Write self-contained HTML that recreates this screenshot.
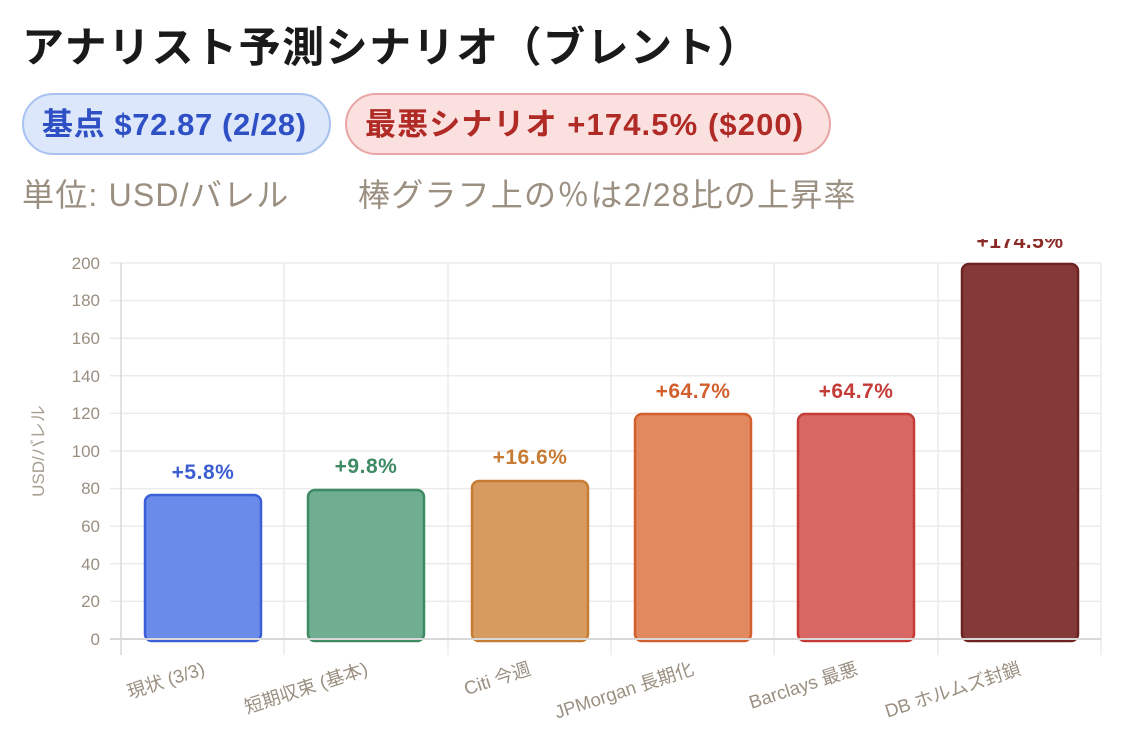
<!DOCTYPE html>
<html><head><meta charset="utf-8"><style>
body{margin:0;width:1126px;height:742px;background:#fff;overflow:hidden;font-family:"Liberation Sans","Noto Sans CJK JP",sans-serif;position:relative}
h1{position:absolute;left:22px;top:14px;margin:0;font-size:42px;font-weight:bold;color:#1a1a1a;letter-spacing:1.5px;white-space:nowrap}
.pill{position:absolute;top:93px;height:62px;border-radius:32px;box-sizing:border-box;font-size:31px;font-weight:bold;line-height:60px;padding:0 0 0 18px;white-space:nowrap;letter-spacing:0.6px}
.b{left:22px;width:309px;background:#dce7fb;border:2px solid #a9c3f0;color:#2f4fc4}
.r{left:345px;width:486px;background:#fbe0e0;border:2px solid #eaa5a5;color:#b02a26;letter-spacing:1.1px}
.sub{position:absolute;top:170px;font-size:32px;color:#9a8f80;white-space:nowrap;letter-spacing:1.2px}
svg{position:absolute;left:0;top:239px}
</style></head><body>
<h1>アナリスト予測シナリオ（ブレント）</h1>
<div class="pill b">基点 $72.87 (2/28)</div>
<div class="pill r">最悪シナリオ +174.5% ($200)</div>
<div class="sub" style="left:22px">単位: USD/バレル</div>
<div class="sub" style="left:358px">棒グラフ上の％は2/28比の上昇率</div>
<svg width="1126" height="503" viewBox="0 239 1126 503" font-family="Liberation Sans, Noto Sans CJK JP, sans-serif">
<g stroke="#ebebeb" stroke-width="1.5">
<line x1="110" x2="1101" y1="263" y2="263"/><line x1="110" x2="1101" y1="300.6" y2="300.6"/><line x1="110" x2="1101" y1="338.2" y2="338.2"/><line x1="110" x2="1101" y1="375.8" y2="375.8"/><line x1="110" x2="1101" y1="413.4" y2="413.4"/><line x1="110" x2="1101" y1="451" y2="451"/><line x1="110" x2="1101" y1="488.6" y2="488.6"/><line x1="110" x2="1101" y1="526.2" y2="526.2"/><line x1="110" x2="1101" y1="563.8" y2="563.8"/><line x1="110" x2="1101" y1="601.4" y2="601.4"/>
<line x1="284" x2="284" y1="263" y2="655"/><line x1="448" x2="448" y1="263" y2="655"/><line x1="611" x2="611" y1="263" y2="655"/><line x1="774" x2="774" y1="263" y2="655"/><line x1="938" x2="938" y1="263" y2="655"/><line x1="1101" x2="1101" y1="263" y2="655"/>
</g>
<line x1="121" x2="121" y1="263" y2="655" stroke="#d8d8d8" stroke-width="1.5"/>
<g fill="#9a8f80" font-size="17" text-anchor="end">
<text x="100" y="269">200</text><text x="100" y="306">180</text><text x="100" y="344">160</text><text x="100" y="382">140</text><text x="100" y="419">120</text><text x="100" y="457">100</text><text x="100" y="494">80</text><text x="100" y="532">60</text><text x="100" y="570">40</text><text x="100" y="607">20</text><text x="100" y="645">0</text>
</g>
<text transform="translate(44,451) rotate(-90)" fill="#a89f93" font-size="17" text-anchor="middle">USD/バレル</text>
<g stroke-width="2.5">
<rect x="145" y="495" width="116" height="146" rx="7" fill="#6a8bea" stroke="#3a5fd6"/>
<rect x="308" y="490" width="116" height="151" rx="7" fill="#6fae91" stroke="#3d8a63"/>
<rect x="472" y="481" width="116" height="160" rx="7" fill="#d89b5f" stroke="#c77c35"/>
<rect x="635" y="414" width="116" height="227" rx="7" fill="#e2895f" stroke="#d2602e"/>
<rect x="798" y="414" width="116" height="227" rx="7" fill="#d96865" stroke="#c53b37"/>
<rect x="962" y="264" width="116" height="377" rx="7" fill="#833a38" stroke="#6e2322"/>
</g>
<line x1="110" x2="1101" y1="639" y2="639" stroke="#d8d8d8" stroke-width="2"/>
<g font-size="21" font-weight="bold" text-anchor="middle" letter-spacing="0.5">
<text x="203" y="479" fill="#3b5fd0">+5.8%</text>
<text x="366" y="473" fill="#3d8a63">+9.8%</text>
<text x="530" y="464" fill="#c77c35">+16.6%</text>
<text x="693" y="398" fill="#d2602e">+64.7%</text>
<text x="856" y="398" fill="#c53b37">+64.7%</text>
<text x="1020" y="248" fill="#8b2a26">+174.5%</text>
</g>
<g fill="#9a8f80" font-size="18.5" text-anchor="end">
<text transform="translate(206,674) rotate(-18)">現状 (3/3)</text>
<text transform="translate(369,674) rotate(-18)">短期収束 (基本)</text>
<text transform="translate(532,674) rotate(-18)">Citi 今週</text>
<text transform="translate(695,674) rotate(-18)">JPMorgan 長期化</text>
<text transform="translate(859,674) rotate(-18)">Barclays 最悪</text>
<text transform="translate(1022,674) rotate(-18)">DB ホルムズ封鎖</text>
</g>
</svg>
</body></html>
